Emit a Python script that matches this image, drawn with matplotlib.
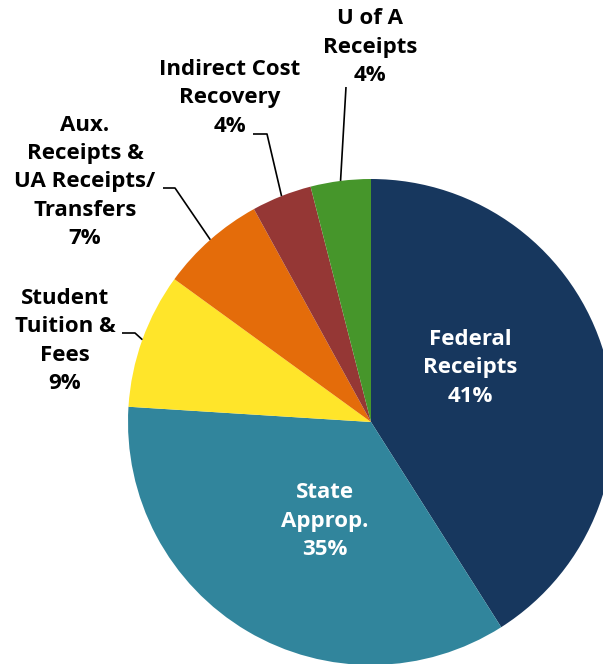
import matplotlib
matplotlib.use('Agg')
import matplotlib.pyplot as plt
import numpy as np

# --- data ---
categories = ['Federal\nReceipts', 'State\nApprop.', 'Student\nTuition &\nFees',
              'Aux.\nReceipts &\nUA Receipts/\nTransfers', 'Indirect Cost\nRecovery', 'U of A\nReceipts']
shares = [41, 35, 9, 7, 4, 4]
colors = ['#17375e', '#31859c', '#ffe52a', '#e46c0a', '#953735', '#46962b']

# label placement (pixel coords, y from top) and leader elbows
label_pos = [(470, 368), (325, 521), (65, 341), (85, 182), (230, 98), (370, 47)]
inside = [True, True, False, False, False, False]
leader_start = [None, None, (122, 333), (163, 188), (253, 134), (346, 87)]
leader_elbow = [None, None, (135, 333), (175, 188), (267, 134), None]

W, H = 603, 664
cx, cy, r = 371, 422, 243

plt.rcParams['font.family'] = ['Open Sans', 'DejaVu Sans']

fig = plt.figure(figsize=(W / 100, H / 100), dpi=100)
ax = fig.add_axes([0, 0, 1, 1])

wedges, _ = ax.pie(shares, colors=colors, startangle=90, counterclock=False,
                   center=(cx, H - cy), radius=r, frame=True)
ax.set_xlim(0, W)
ax.set_ylim(0, H)
ax.axis('off')

for i, w in enumerate(wedges):
    mid = np.deg2rad((w.theta1 + w.theta2) / 2)
    ex, ey = cx + r * np.cos(mid), (H - cy) + r * np.sin(mid)
    lx, ly = label_pos[i]
    txt = f"{categories[i]}\n{shares[i]}%"
    ax.text(lx, H - ly, txt, ha='center', va='center', fontsize=16,
            fontweight='bold', color='white' if inside[i] else 'black',
            linespacing=1.45)
    if leader_start[i] is not None:
        pts = [leader_start[i]]
        if leader_elbow[i] is not None:
            pts.append(leader_elbow[i])
        xs = [p[0] for p in pts] + [ex]
        ys = [H - p[1] for p in pts] + [ey]
        ax.plot(xs, ys, color='black', lw=1.2, solid_capstyle='butt')

plt.savefig('out.png', dpi=100)
